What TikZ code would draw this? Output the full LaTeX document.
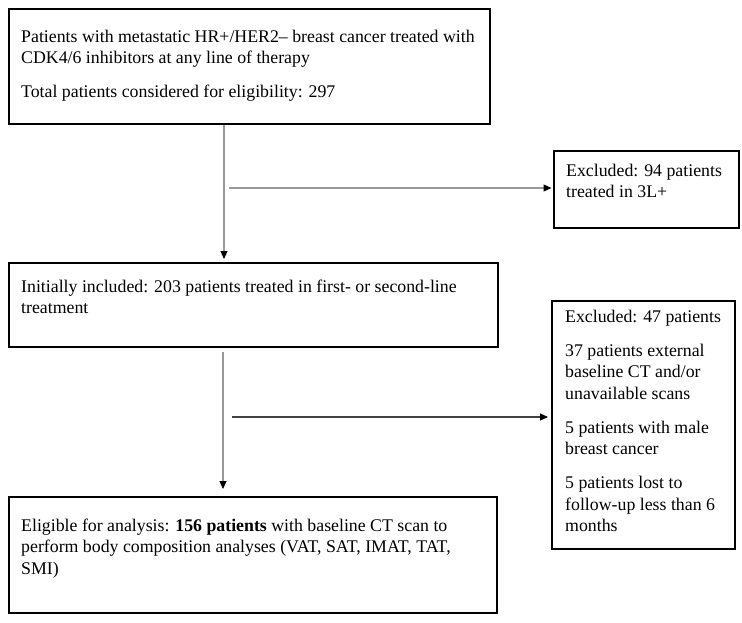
\documentclass[tikz,border=0pt]{standalone}
\usepackage{fontspec}
\setmainfont{Liberation Serif}
\usetikzlibrary{arrows.meta}
\begin{document}
\begin{tikzpicture}[x=1pt,y=-1pt,
  box/.style={draw=black,line width=1.5pt,inner sep=0pt,anchor=north west},
  txt/.style={anchor=north west,inner sep=0pt,align=left,font=\fontsize{17.8}{21.5}\selectfont},
  flow/.style={draw=gray!80,line width=1.1pt,-{Triangle[length=8pt,width=7pt,color=black]}},
  flowdark/.style={flow,draw=black!75}]
\fill[white] (0,0) rectangle (742,622);
\useasboundingbox (0,0) rectangle (742,622);
% boxes
\node[box,minimum width=481pt,minimum height=115pt] (b1) at (8,8) {};
\node[box,minimum width=489pt,minimum height=84pt] (b2) at (8,262) {};
\node[box,minimum width=488pt,minimum height=116pt] (b3) at (8,496) {};
\node[box,minimum width=185pt,minimum height=77pt] (e1) at (553,150) {};
\node[box,minimum width=183pt,minimum height=248pt] (e2) at (551,300) {};
% texts
\node[txt] (t1) at (21,27) {\strut Patients with metastatic HR+/HER2– breast cancer treated with\\
CDK4/6 inhibitors at any line of therapy\\[12.5pt]
Total patients considered for eligibility: 297};
\node[txt] (t2) at (21,277) {\strut Initially included: 203 patients treated in first- or second-line\\
treatment};
\node[txt] (t3) at (21,516) {\strut Eligible for analysis: \textbf{156 patients} with baseline CT scan to\\
perform body composition analyses (VAT, SAT, IMAT, TAT,\\
SMI)};
\node[txt] (te1) at (566,161) {\strut Excluded: 94 patients\\
treated in 3L+};
\node[txt] (te2) at (565,307) {\strut Excluded: 47 patients\\[12.5pt]
37 patients external\\
baseline CT and/or\\
unavailable scans\\[12.5pt]
5 patients with male\\
breast cancer\\[12.5pt]
5 patients lost to\\
follow-up less than 6\\
months};
% connectors
\coordinate (v1) at (224,123);
\coordinate (v2) at (223,346);
\coordinate (h1) at (229,188);
\coordinate (h2) at (232,417);
\draw[flow,shorten >=3pt] (b1.south -| v1) -- (b2.north -| v1);
\draw[flow,shorten >=1.5pt] (h1) -- (h1 -| e1.west);
\draw[flow,shorten <=4pt,shorten >=7pt] (b2.south -| v2) -- (b3.north -| v2);
\draw[flowdark,shorten >=3pt] (h2) -- (h2 -| e2.west);
\end{tikzpicture}
\end{document}
